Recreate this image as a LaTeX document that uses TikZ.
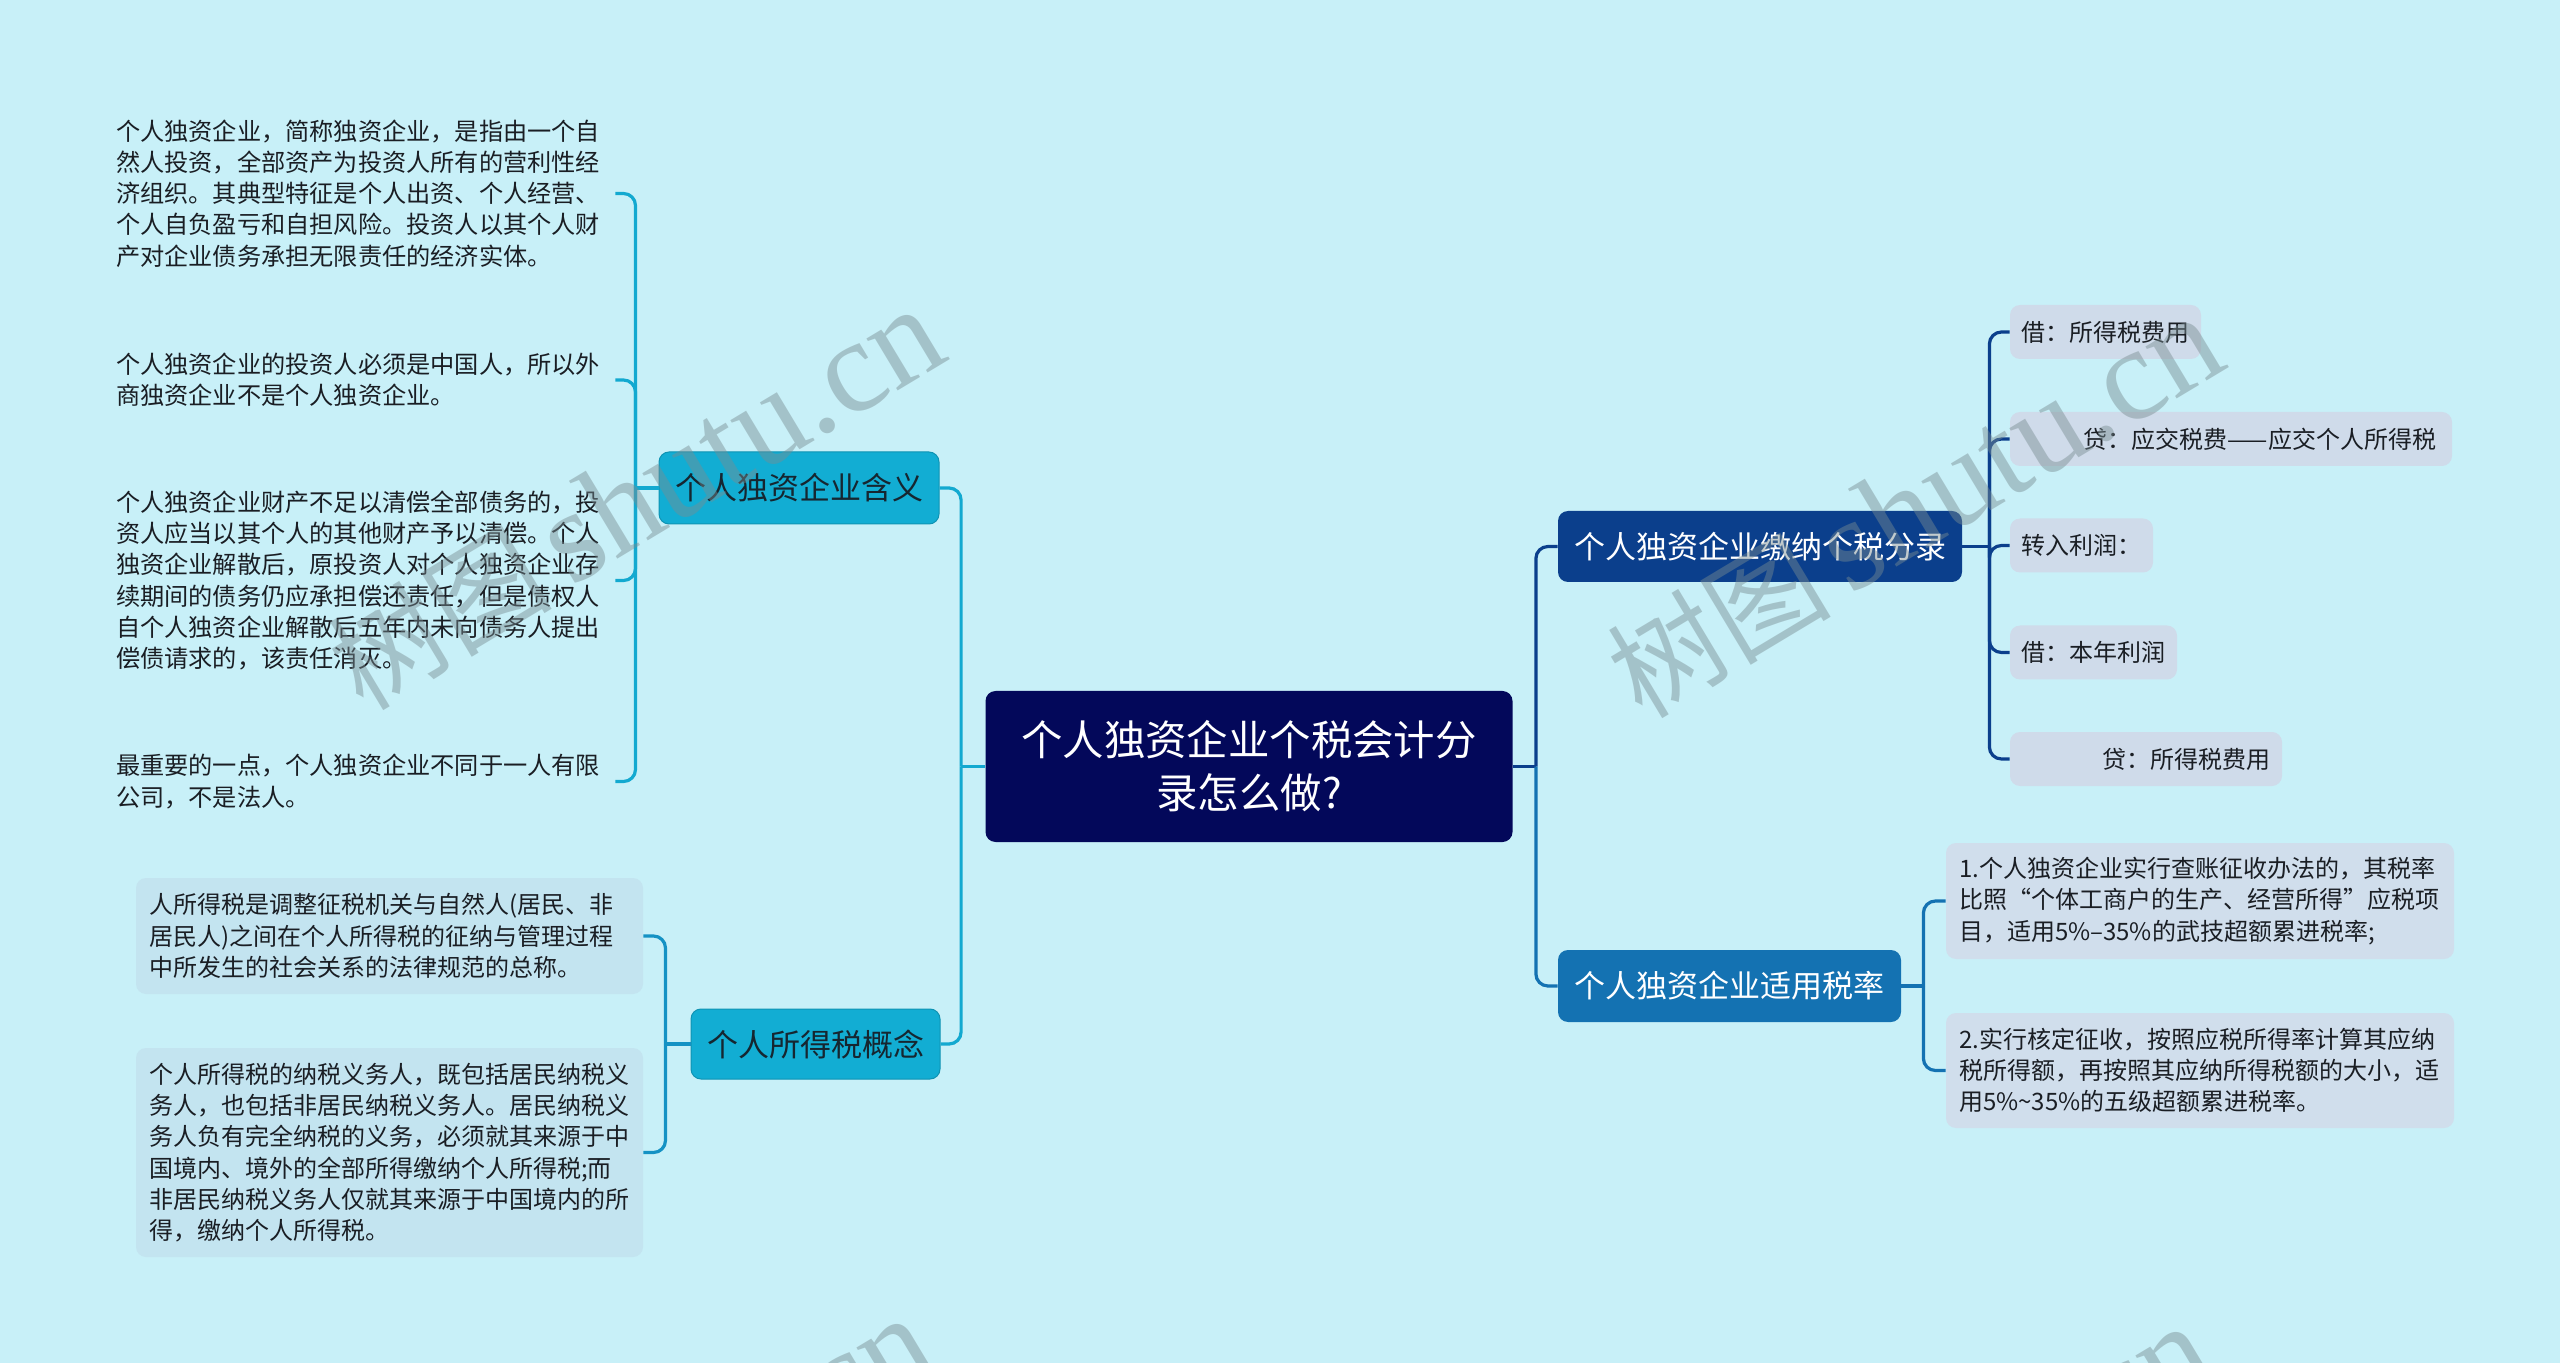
\documentclass[tikz,border=0pt]{standalone}
\usepackage{fontspec}
\setmainfont{Noto Sans CJK SC}
\newfontfamily\wmlatin{Liberation Serif}
\usetikzlibrary{calc}
\definecolor{bgc}{RGB}{200,240,248}
\definecolor{rootc}{RGB}{3,8,90}
\definecolor{cyanc}{RGB}{18,173,211}
\definecolor{cyanl}{RGB}{19,169,208}
\definecolor{cyand}{RGB}{21,146,196}
\definecolor{darkb}{RGB}{11,63,140}
\definecolor{midb}{RGB}{20,114,178}
\definecolor{leafr}{RGB}{207,219,234}
\definecolor{leaft}{RGB}{208,222,236}
\definecolor{leafc}{RGB}{195,228,240}
\definecolor{txtd}{RGB}{26,30,36}
\definecolor{txtb}{RGB}{22,38,48}
\definecolor{wmc}{RGB}{120,140,145}
\tikzset{
  rootnode/.style={fill=rootc, rounded corners=5pt, text=white, inner sep=0pt,
    minimum width=263.5pt, minimum height=75.5pt, align=center,
    font=\fontsize{20.7}{26.5}\selectfont},
  branchA/.style={fill=cyanc, draw=cyanc!85!black, line width=0.5pt, rounded corners=5pt, text=txtb, inner sep=0pt,
    font=\fontsize{15.5}{18}\selectfont},
  branchB/.style={fill=darkb, rounded corners=5pt, text=white, inner sep=0pt,
    font=\fontsize{15.5}{18}\selectfont},
  branchC/.style={fill=midb, rounded corners=5pt, text=white, inner sep=0pt,
    font=\fontsize{15.5}{18}\selectfont},
  rleaf/.style={fill=leafr, rounded corners=5pt, text=txtd, inner sep=0pt,
    minimum height=27pt, font=\fontsize{12}{15.65}\selectfont},
  tleaf/.style={fill=leaft, rounded corners=5pt, text=txtd, inner xsep=6.5pt, inner ysep=0pt,
    text width=241pt, align=left, font=\fontsize{12}{15.65}\selectfont},
  cleaf/.style={fill=leafc, rounded corners=5pt, text=txtd, inner xsep=6.5pt, inner ysep=0pt,
    text width=240.5pt, align=left, font=\fontsize{12}{15.65}\selectfont},
  aleaf/.style={text=txtd, inner xsep=6.5pt, inner ysep=0pt,
    text width=243pt, align=left, font=\fontsize{12.1}{15.6}\selectfont},
  conn/.style={line width=1.6pt, rounded corners=6pt},
  wm/.style={text=wmc, opacity=0.45, inner sep=0pt, font=\fontsize{56}{60}\selectfont}
}
\begin{document}
\begin{tikzpicture}[x=0.5pt,y=-0.5pt]
\fill[bgc] (0,0) rectangle (2560,1363);
\useasboundingbox (0,0) rectangle (2560,1363);

% root
\node[rootnode] (root) at (1249,766.5) {个人独资企业个税会计分\\录怎么做?};

% branches
\node[branchA, minimum width=140pt, minimum height=36pt] (b1) at (799,488) {个人独资企业含义};
\node[branchA, minimum width=124.5pt, minimum height=35pt] (b2) at (815.5,1044) {个人所得税概念};
\node[branchB, minimum width=202pt, minimum height=35.5pt] (b3) at (1760,546.5) {个人独资企业缴纳个税分录};
\node[branchC, minimum width=171.5pt, minimum height=36pt] (b4) at (1729.5,986) {个人独资企业适用税率};

% left leaves (meaning)
\node[aleaf] (a1) at (359,193.5) {个人独资企业，简称独资企业，是指由一个自\\然人投资，全部资产为投资人所有的营利性经\\济组织。其典型特征是个人出资、个人经营、\\个人自负盈亏和自担风险。投资人以其个人财\\产对企业债务承担无限责任的经济实体。};
\node[aleaf] (a2) at (359,380) {个人独资企业的投资人必须是中国人，所以外\\商独资企业不是个人独资企业。};
\node[aleaf] (a3) at (359,580.5) {个人独资企业财产不足以清偿全部债务的，投\\资人应当以其个人的其他财产予以清偿。个人\\独资企业解散后，原投资人对个人独资企业存\\续期间的债务仍应承担偿还责任，但是债权人\\自个人独资企业解散后五年内未向债务人提出\\偿债请求的，该责任消灭。};
\node[aleaf] (a4) at (359,781.5) {最重要的一点，个人独资企业不同于一人有限\\公司，不是法人。};

% left leaves (concept)
\node[cleaf, minimum height=58pt] (c1) at (389.5,936) {人所得税是调整征税机关与自然人(居民、非\\居民人)之间在个人所得税的征纳与管理过程\\中所发生的社会关系的法律规范的总称。};
\node[cleaf, minimum height=104.5pt] (c2) at (389.5,1152.5) {个人所得税的纳税义务人，既包括居民纳税义\\务人，也包括非居民纳税义务人。居民纳税义\\务人负有完全纳税的义务，必须就其来源于中\\国境内、境外的全部所得缴纳个人所得税;而\\非居民纳税义务人仅就其来源于中国境内的所\\得，缴纳个人所得税。};

% right leaves (entries)
\node[rleaf, minimum width=95.5pt] (r1) at (2105.5,332) {借：所得税费用};
\node[rleaf, minimum width=221pt] (r2) at (2231,439) {\hspace*{29pt}贷：应交税费——应交个人所得税};
\node[rleaf, minimum width=71.5pt] (r3) at (2081.5,545.5) {转入利润：};
\node[rleaf, minimum width=83.5pt] (r4) at (2093.5,652.5) {借：本年利润};
\node[rleaf, minimum width=136pt] (r5) at (2146,759) {\hspace*{40pt}贷：所得税费用};

% right leaves (rates)
\node[tleaf, minimum height=58pt] (t1) at (2200,901) {1.个人独资企业实行查账征收办法的，其税率\\比照“个体工商户的生产、经营所得”应税项\\目，适用5\%–35\%的武技超额累进税率;};
\node[tleaf, minimum height=57.5pt] (t2) at (2200,1070.5) {2.实行核定征收，按照应税所得率计算其应纳\\税所得额，再按照其应纳所得税额的大小，适\\用5\%\textasciitilde35\%的五级超额累进税率。};

% spine coordinates
\coordinate (rootL) at ($(root.west)+(-24,0)$);
\coordinate (rootR) at ($(root.east)+(23,0)$);
\coordinate (b1L) at ($(b1.west)+(-23,0)$);
\coordinate (b2L) at ($(b2.west)+(-25,0)$);
\coordinate (b3R) at ($(b3.east)+(27,0)$);
\coordinate (b4R) at ($(b4.east)+(22,0)$);

% connectors from root
\draw[conn, cyanl] (root.west) -- (rootL);
\draw[conn, cyanl] (rootL) |- (b1.east);
\draw[conn, cyanl] (rootL) |- (b2.east);
\draw[conn, darkb] (root.east) -- (rootR);
\draw[conn, darkb] (rootR) |- (b3.west);
\draw[conn, midb] (rootR) |- (b4.west);

% b1 children
\draw[conn, cyanl] (b1.west) -- (b1L);
\foreach \n in {a1,a2,a3,a4} \draw[conn, cyanl] (b1L) |- (\n.east);
% b2 children
\draw[conn, cyand] (b2.west) -- (b2L);
\foreach \n in {c1,c2} \draw[conn, cyand] (b2L) |- (\n.east);
% b3 children
\draw[conn, darkb] (b3.east) -- (b3R);
\foreach \n in {r1,r2,r3,r4,r5} \draw[conn, darkb] (b3R) |- (\n.west);
% b4 children
\draw[conn, midb] (b4.east) -- (b4R);
\foreach \n in {t1,t2} \draw[conn, midb] (b4R) |- (\n.west);

% watermarks
\begin{scope}
\clip (0,0) rectangle (2560,1363);
\foreach \cx/\cy [count=\i] in {636/499, 1915/507, 626/1508, 1905/1516}
  \node[wm, rotate=31] (wm\i) at (\cx,\cy) {树图\,{\wmlatin\fontsize{66}{70}\selectfont shutu.cn}};
\end{scope}
\end{tikzpicture}
\end{document}
